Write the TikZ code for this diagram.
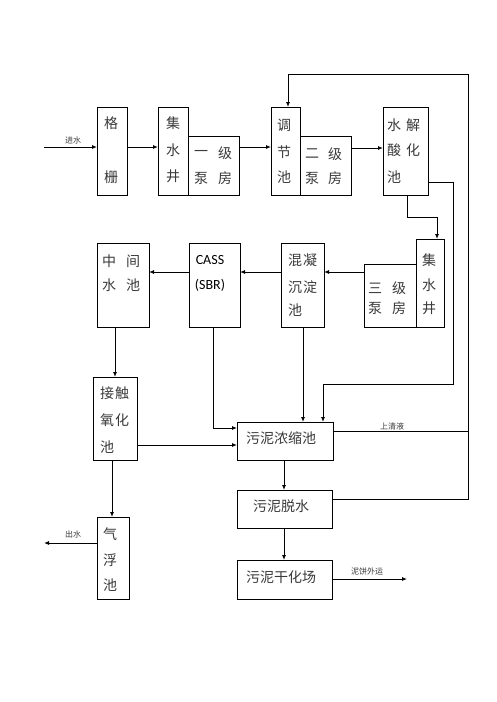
\documentclass[tikz,border=0pt]{standalone}
\usepackage{fontspec}
\newfontfamily\cjk{Noto Sans CJK SC}
\newfontfamily\lat{Carlito}
\usetikzlibrary{arrows.meta}
\definecolor{txtgray}{HTML}{3A3A3A}
\begin{document}
\begin{tikzpicture}[x=1pt,y=-1pt,
  box/.style={draw=black,line width=0.9pt,inner sep=0pt,outer sep=0pt,anchor=north west},
  ln/.style={draw=black,line width=0.9pt},
  arr/.style={ln,-{Latex[length=5pt,width=4pt]}},
  t/.style={font=\cjk\fontsize{14}{14}\selectfont,text=txtgray,inner sep=0pt},
  tl/.style={font=\lat\fontsize{14}{14}\selectfont,text=black,inner sep=0pt},
  sm/.style={font=\cjk\fontsize{8}{8}\selectfont,text=txtgray,inner sep=0pt}]
\useasboundingbox (0,0) rectangle (496,702);
\fill[white] (0,0) rectangle (496,702);
% boxes
\newcommand\bx[5]{\node[box,minimum width=#4-#2,minimum height=#5-#3] (#1) at (#2,#3) {};}
\pgfmathsetmacro\dummy{0}
\node[box,minimum width=30pt,minimum height=88pt] (gezha) at (97,107) {};
\node[box,minimum width=30pt,minimum height=88pt] (jsj1) at (158,107) {};
\node[box,minimum width=51pt,minimum height=59pt] (bf1) at (188,136) {};
\node[box,minimum width=29pt,minimum height=88pt] (tjc) at (271,107) {};
\node[box,minimum width=51pt,minimum height=59pt] (bf2) at (300,136) {};
\node[box,minimum width=45pt,minimum height=88pt] (sjsh) at (383,107) {};
\node[box,minimum width=28pt,minimum height=88pt] (jsj3) at (416,239) {};
\node[box,minimum width=52pt,minimum height=63pt] (bf3) at (364,264) {};
\node[box,minimum width=43pt,minimum height=84pt] (hnc) at (281,243) {};
\node[box,minimum width=51pt,minimum height=84pt] (cass) at (189,243) {};
\node[box,minimum width=52pt,minimum height=84pt] (zjsc) at (97,243) {};
\node[box,minimum width=44pt,minimum height=83pt] (jch) at (93,377) {};
\node[box,minimum width=32pt,minimum height=82pt] (qfc) at (97,517) {};
\node[box,minimum width=96pt,minimum height=38pt] (wnns) at (237,422) {};
\node[box,minimum width=95pt,minimum height=38pt] (wnts) at (237,490) {};
\node[box,minimum width=95pt,minimum height=39pt] (wngh) at (237,560) {};
% texts
\node[t] (g1) at (111,123) {格};
\node[t] (g2) at (111,177) {栅};
\node[t] (j1) at (173,123) {集};
\node[t] (j2) at (173,150) {水};
\node[t] (j3) at (173,176) {井};
\node[t] (b1a) at (201,153) {一};
\node[t] (b1b) at (225,153) {级};
\node[t] (b1c) at (201,178) {泵};
\node[t] (b1d) at (225,178) {房};
\node[t] (c1) at (284,125) {调};
\node[t] (c2) at (284,152) {节};
\node[t] (c3) at (284,177) {池};
\node[t] (b2a) at (312,154) {二};
\node[t] (b2b) at (335,154) {级};
\node[t] (b2c) at (312,178) {泵};
\node[t] (b2d) at (335,178) {房};
\node[t] (s1) at (394,125) {水};
\node[t] (s2) at (413,125) {解};
\node[t] (s3) at (394,150) {酸};
\node[t] (s4) at (413,150) {化};
\node[t] (s5) at (394,177) {池};
\node[t] (k1) at (429,260) {集};
\node[t] (k2) at (429,285) {水};
\node[t] (k3) at (429,308) {井};
\node[t] (b3a) at (375,288) {三};
\node[t] (b3b) at (399,288) {级};
\node[t] (b3c) at (375,308) {泵};
\node[t] (b3d) at (399,308) {房};
\node[t] (h1) at (295,260) {混};
\node[t] (h2) at (310,260) {凝};
\node[t] (h3) at (295,287) {沉};
\node[t] (h4) at (310,287) {淀};
\node[t] (h5) at (295,310) {池};
\node[tl] (ca1) at (210,260) {CASS};
\node[tl] (ca2) at (210,285) {(SBR)};
\node[t] (z1) at (109,261) {中};
\node[t] (z2) at (133,261) {间};
\node[t] (z3) at (109,285) {水};
\node[t] (z4) at (133,285) {池};
\node[t] (o1) at (107,393) {接};
\node[t] (o2) at (122,393) {触};
\node[t] (o3) at (107,420) {氧};
\node[t] (o4) at (122,420) {化};
\node[t] (o5) at (107,447) {池};
\node[t] (q1) at (110,534) {气};
\node[t] (q2) at (110,560) {浮};
\node[t] (q3) at (110,585) {池};
\node[t] (n1) at (281,438) {污泥浓缩池};
\node[t] (n2) at (281,506) {污泥脱水};
\node[t] (n3) at (281,577) {污泥干化场};
\node[sm] (l1) at (73,140) {进水};
\node[sm] (l2) at (73,534) {出水};
\node[sm] (l3) at (392,426) {上清液};
\node[sm] (l4) at (367,571) {泥饼外运};
% coordinates
\coordinate (inS) at (44,147);
\coordinate (outE) at (44,543);
\coordinate (cakeE) at (407,579);
\coordinate (rA) at (0,147);
\coordinate (rB) at (0,148);
\coordinate (rC) at (0,272);
\coordinate (rD) at (0,445);
\coordinate (rE) at (0,428);
\coordinate (rF) at (0,431);
\coordinate (rG) at (0,499);
\coordinate (rH) at (0,182);
\coordinate (top1) at (468,74);
\coordinate (top2) at (288,74);
\coordinate (bot) at (468,499);
\coordinate (mid) at (468,431);
\coordinate (p1) at (453,182);
\coordinate (p2) at (453,384);
\coordinate (p3) at (323,384);
\coordinate (q1c) at (407,217);
\coordinate (q2c) at (437,217);
\coordinate (cs) at (213,428);
% connectors
\draw[arr] (inS) -- (inS -| gezha.west);
\draw[arr] (gezha.east |- rA) -- (jsj1.west |- rA);
\draw[arr] (bf1.east |- rA) -- (tjc.west |- rA);
\draw[arr] (bf2.east |- rB) -- (sjsh.west |- rB);
\draw[ln] (wnts.east |- rG) -- (bot) -- (top1);
\draw[arr] (top1) -- (top2) -- (top2 |- tjc.north);
\draw[ln] (wnns.east |- rF) -- (mid);
\draw[arr] (sjsh.east |- rH) -- (p1) -- (p2) -- (p3) -- (p3 |- wnns.north);
\draw[arr] (q1c |- sjsh.south) -- (q1c) -- (q2c) -- (q2c |- jsj3.north);
\draw[arr] (bf3.west |- rC) -- (hnc.east |- rC);
\draw[arr] (hnc.west |- rC) -- (cass.east |- rC);
\draw[arr] (cass.west |- rC) -- (zjsc.east |- rC);
\draw[arr] (115,0 |- zjsc.south) -- (115,0 |- jch.north);
\draw[arr] (jch.east |- rD) -- (wnns.west |- rD);
\draw[arr] (cs |- cass.south) -- (cs) -- (wnns.west |- cs);
\draw[arr] (303,0 |- hnc.south) -- (303,0 |- wnns.north);
\draw[arr] (112,0 |- jch.south) -- (112,0 |- qfc.north);
\draw[arr] (qfc.west |- outE) -- (outE);
\draw[arr] (284,0 |- wnns.south) -- (284,0 |- wnts.north);
\draw[arr] (284,0 |- wnts.south) -- (284,0 |- wngh.north);
\draw[arr] (wngh.east |- cakeE) -- (cakeE);
\end{tikzpicture}
\end{document}
